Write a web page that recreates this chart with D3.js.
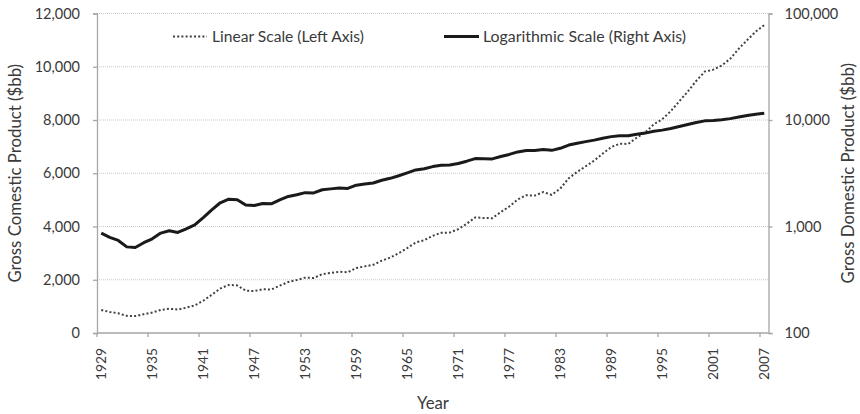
<!DOCTYPE html>
<html>
<head>
<meta charset="utf-8">
<script src="https://cdn.jsdelivr.net/npm/d3@7/dist/d3.min.js"></script>
<style>
  html, body { margin: 0; padding: 0; background: #fff; }
  svg text { font-family: Lato, "Open Sans", sans-serif; fill: #3a3a3a; }
</style>
</head>
<body>
<svg id="chart" width="860" height="414"></svg>
<script>
// Real GDP, billions of chained dollars, 1929-2007
const years = d3.range(1929, 2008);
const realGdp = [
  865.2, 790.7, 739.9, 643.7, 635.5, 704.2, 766.9, 866.6, 911.1, 879.7,
  950.7, 1034.1, 1211.1, 1435.4, 1670.9, 1806.5, 1786.3, 1589.4, 1574.5, 1643.2,
  1634.6, 1777.3, 1915.0, 1988.3, 2079.5, 2065.4, 2212.8, 2255.8, 2301.1, 2279.2,
  2441.3, 2501.8, 2560.0, 2715.2, 2834.0, 2998.6, 3191.1, 3399.1, 3484.6, 3652.7,
  3765.4, 3771.9, 3898.6, 4105.0, 4341.5, 4319.6, 4311.2, 4540.9, 4750.5, 5015.0,
  5173.4, 5161.7, 5291.7, 5189.3, 5423.8, 5813.6, 6053.7, 6263.6, 6475.1, 6742.7,
  6981.4, 7112.5, 7100.5, 7336.6, 7532.7, 7835.5, 8031.7, 8328.9, 8703.5, 9066.9,
  9470.3, 9817.0, 9890.7, 10048.8, 10301.0, 10675.8, 11003.4, 11319.4, 11566.8
];
const linearTicks = [0, 2000, 4000, 6000, 8000, 10000, 12000];
const logTicks = [100, 1000, 10000, 100000];
const yearTicks = years.filter((y, i) => i % 6 === 0);
const seriesNames = ["Linear Scale (Left Axis)", "Logarithmic Scale (Right Axis)"];

const svg = d3.select("#chart");
const plotL = 97, plotR = 768.5, plotT = 13.5, plotB = 333;

const x = d3.scaleBand().domain(years).range([plotL, plotR]).padding(0);
const yLin = d3.scaleLinear().domain([0, 12000]).range([plotB, plotT]);
const yLog = d3.scaleLog().domain([100, 100000]).range([plotB, plotT]);
const fmt = d3.format(",");
const cx = yr => x(yr) + x.bandwidth() / 2;

// horizontal gridlines
svg.append("g").selectAll("line")
  .data(linearTicks.filter(t => t > 0))
  .join("line")
  .attr("x1", plotL).attr("x2", plotR)
  .attr("y1", d => yLin(d)).attr("y2", d => yLin(d))
  .attr("stroke", "#c8c8c8").attr("stroke-width", 1)
  .attr("stroke-dasharray", "1,1");

// left axis
const gL = svg.append("g").attr("transform", `translate(${plotL},0)`)
  .call(d3.axisLeft(yLin).tickValues(linearTicks).tickFormat(fmt).tickSize(4).tickPadding(13));
// right axis
const gR = svg.append("g").attr("transform", `translate(${plotR},0)`)
  .call(d3.axisRight(yLog).tickValues(logTicks).tickFormat(fmt).tickSize(4).tickPadding(12));
[gL, gR].forEach(g => {
  g.select(".domain").attr("stroke", "#a6a6a6").attr("stroke-width", 1.3);
  g.selectAll(".tick line").attr("stroke", "#a6a6a6").attr("stroke-width", 1.3);
  g.selectAll(".tick text").attr("font-size", 14.5).style("fill", "#3a3a3a");
});

// bottom axis: ticks on category boundaries, labels at category centres
const gB = svg.append("g");
gB.append("line").attr("x1", plotL).attr("x2", plotR)
  .attr("y1", plotB).attr("y2", plotB)
  .attr("stroke", "#a6a6a6").attr("stroke-width", 1.3);
gB.selectAll("line.tk").data(yearTicks).join("line").attr("class", "tk")
  .attr("x1", d => x(d)).attr("x2", d => x(d))
  .attr("y1", plotB).attr("y2", plotB + 4)
  .attr("stroke", "#a6a6a6").attr("stroke-width", 1.3);
gB.selectAll("text").data(yearTicks).join("text")
  .attr("transform", d => `translate(${cx(d) + 5},${plotB + 15}) rotate(-90)`)
  .attr("text-anchor", "end")
  .attr("font-size", 13.8)
  .text(d => d);

// axis titles
svg.append("text").attr("transform", `translate(21,${(plotT + plotB) / 2}) rotate(-90)`)
  .attr("text-anchor", "middle").attr("font-size", 16.8)
  .text("Gross Comestic Product ($bb)");
svg.append("text").attr("transform", `translate(854,${(plotT + plotB) / 2}) rotate(-90)`)
  .attr("text-anchor", "middle").attr("font-size", 16.8)
  .text("Gross Domestic Product ($bb)");
svg.append("text").attr("x", 433).attr("y", 409)
  .attr("text-anchor", "middle").attr("font-size", 16.8)
  .text("Year");

// series
const lineLin = d3.line().x((d, i) => cx(years[i])).y(d => yLin(d));
const lineLog = d3.line().x((d, i) => cx(years[i])).y(d => yLog(d));
svg.append("path").attr("d", lineLin(realGdp))
  .attr("fill", "none").attr("stroke", "#404040").attr("stroke-width", 2)
  .attr("stroke-dasharray", "2,2.2");
svg.append("path").attr("d", lineLog(realGdp))
  .attr("fill", "none").attr("stroke", "#1a1a1a").attr("stroke-width", 3)
  .attr("stroke-linejoin", "round");

// legend
const lg = svg.append("g");
lg.append("line").attr("x1", 173).attr("x2", 207).attr("y1", 36.5).attr("y2", 36.5)
  .attr("stroke", "#404040").attr("stroke-width", 2).attr("stroke-dasharray", "2,2.2");
lg.append("text").attr("x", 212).attr("y", 42).attr("font-size", 15.6).text(seriesNames[0]);
lg.append("line").attr("x1", 444).attr("x2", 479).attr("y1", 36.5).attr("y2", 36.5)
  .attr("stroke", "#1a1a1a").attr("stroke-width", 3);
lg.append("text").attr("x", 483).attr("y", 42).attr("font-size", 15.9).text(seriesNames[1]);
</script>
</body>
</html>
